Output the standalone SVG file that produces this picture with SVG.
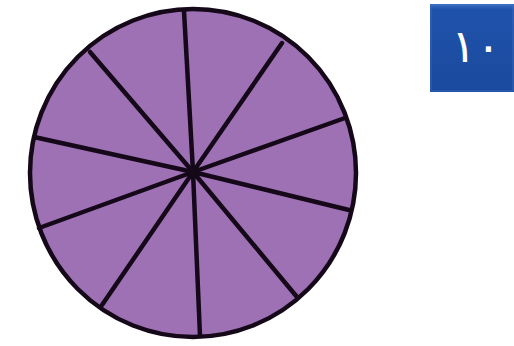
<svg xmlns="http://www.w3.org/2000/svg" width="514" height="346" viewBox="0 0 514 346">
<style>
.spoke{stroke:#150818;stroke-width:4.5;stroke-linecap:round}
.lbl{font-family:"DejaVu Sans","Noto Sans",sans-serif;fill:#ffffff}
</style>
<defs>
<linearGradient id="bg" x1="0" y1="0" x2="0" y2="1">
<stop offset="0" stop-color="#3a6cc0"/>
<stop offset="0.06" stop-color="#1f52ab"/>
<stop offset="1" stop-color="#1a4a9e"/>
</linearGradient>
</defs>
<rect width="514" height="346" fill="#ffffff"/>
<g id="circle">
<ellipse cx="193" cy="173" rx="163" ry="164" fill="#9e71b5" stroke="#150818" stroke-width="4.5"/>
</g>
<g id="spokes">
<line class="spoke" x1="193" y1="172" x2="184" y2="11"/>
<line class="spoke" x1="193" y1="172" x2="282" y2="43"/>
<line class="spoke" x1="193" y1="172" x2="345" y2="118"/>
<line class="spoke" x1="193" y1="172" x2="349" y2="210"/>
<line class="spoke" x1="193" y1="172" x2="297" y2="297"/>
<line class="spoke" x1="193" y1="172" x2="200" y2="336"/>
<line class="spoke" x1="193" y1="172" x2="102" y2="305"/>
<line class="spoke" x1="193" y1="172" x2="39" y2="228"/>
<line class="spoke" x1="193" y1="172" x2="34" y2="137"/>
<line class="spoke" x1="193" y1="172" x2="90" y2="52"/>
<circle cx="193" cy="172" r="5" fill="#150818"/>
</g>
<g id="label">
<rect x="430" y="4" width="84" height="88" fill="url(#bg)"/>
<rect x="431" y="5" width="82" height="86" fill="none" stroke="#4a78c8" stroke-width="1" opacity="0.6"/>
<text class="lbl" x="476" y="62" font-size="46" text-anchor="middle" letter-spacing="2">١٠</text>
</g>
</svg>
